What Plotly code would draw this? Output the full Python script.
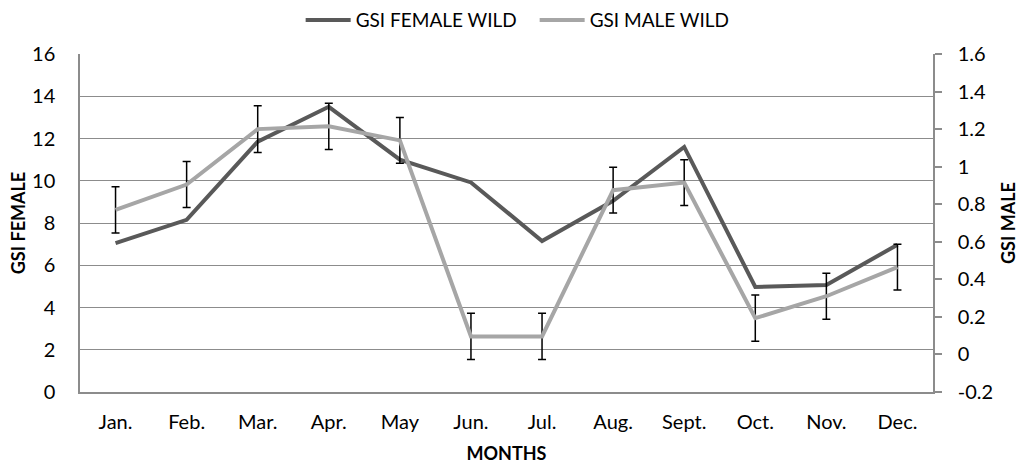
import plotly.graph_objects as go

months = ["Jan.", "Feb.", "Mar.", "Apr.", "May", "Jun.", "Jul.", "Aug.", "Sept.", "Oct.", "Nov.", "Dec."]
gsi_female = [7.05, 8.15, 11.85, 13.5, 11.0, 9.92, 7.15, 9.05, 11.6, 4.97, 5.07, 6.97]
gsi_male = [0.77, 0.905, 1.2, 1.215, 1.14, 0.096, 0.096, 0.875, 0.915, 0.193, 0.31, 0.465]
male_err = [0.123, 0.123, 0.124, 0.123, 0.122, 0.123, 0.123, 0.122, 0.122, 0.123, 0.122, 0.122]
right_ticks = [-0.2, 0, 0.2, 0.4, 0.6, 0.8, 1.0, 1.2, 1.4, 1.6]
right_tick_text = ["-0.2", "0", "0.2", "0.4", "0.6", "0.8", "1", "1.2", "1.4", "1.6"]

FONT = "Lato"
GRID = "#8c8c8c"
TICK_SIZE = 20

fig = go.Figure()
fig.add_trace(go.Scatter(
    x=months, y=gsi_female, name="GSI FEMALE WILD", mode="lines",
    line=dict(color="#595959", width=4), yaxis="y",
))
fig.add_trace(go.Scatter(
    x=months, y=gsi_male, name="GSI MALE WILD", mode="lines",
    line=dict(color="#a6a6a6", width=4), yaxis="y2",
    error_y=dict(type="data", array=male_err, visible=True, color="black", thickness=1.5, width=4),
))

fig.update_layout(
    width=1022, height=464,
    margin=dict(l=80, r=89, t=54, b=72, autoexpand=False),
    paper_bgcolor="white", plot_bgcolor="white",
    font=dict(family=FONT, size=18, color="black"),
    showlegend=True,
    legend=dict(orientation="h", x=0.533, xanchor="center", y=1.10, yanchor="middle",
                itemwidth=45, entrywidth=174,
                font=dict(family=FONT, size=19, color="black")),
    xaxis=dict(
        type="category", range=[-0.5, 11.5], showgrid=False, automargin=False,
        showline=True, linecolor=GRID, linewidth=1.5,
        ticks="outside", ticklen=11, tickcolor="rgba(0,0,0,0)",
        tickfont=dict(family=FONT, size=TICK_SIZE),
        title=dict(text="<b>MONTHS</b>", font=dict(family=FONT, size=18), standoff=21),
    ),
    yaxis=dict(
        range=[0, 16], dtick=2, showgrid=True, gridcolor=GRID, gridwidth=1.2,
        showline=True, linecolor=GRID, linewidth=1.5, zeroline=False, automargin=False,
        ticks="outside", ticklen=19, tickcolor="rgba(0,0,0,0)",
        tickfont=dict(family=FONT, size=TICK_SIZE),
        title=dict(text="<b>GSI FEMALE</b>", font=dict(family=FONT, size=18), standoff=2),
    ),
    yaxis2=dict(
        range=[-0.2, 1.6], overlaying="y", side="right", automargin=False,
        tickvals=right_ticks, ticktext=right_tick_text,
        showgrid=False, zeroline=False,
        showline=True, linecolor=GRID, linewidth=1.5,
        ticks="outside", ticklen=7, tickcolor=GRID, tickwidth=1.5,
        ticklabelstandoff=12,
        tickfont=dict(family=FONT, size=TICK_SIZE),
        title=dict(text="<b>GSI MALE</b>", font=dict(family=FONT, size=18), standoff=10),
    ),
)

fig.write_html("out.html", config={"displayModeBar": False},
               post_script="document.body.style.margin='0';document.body.style.overflow='hidden';")
